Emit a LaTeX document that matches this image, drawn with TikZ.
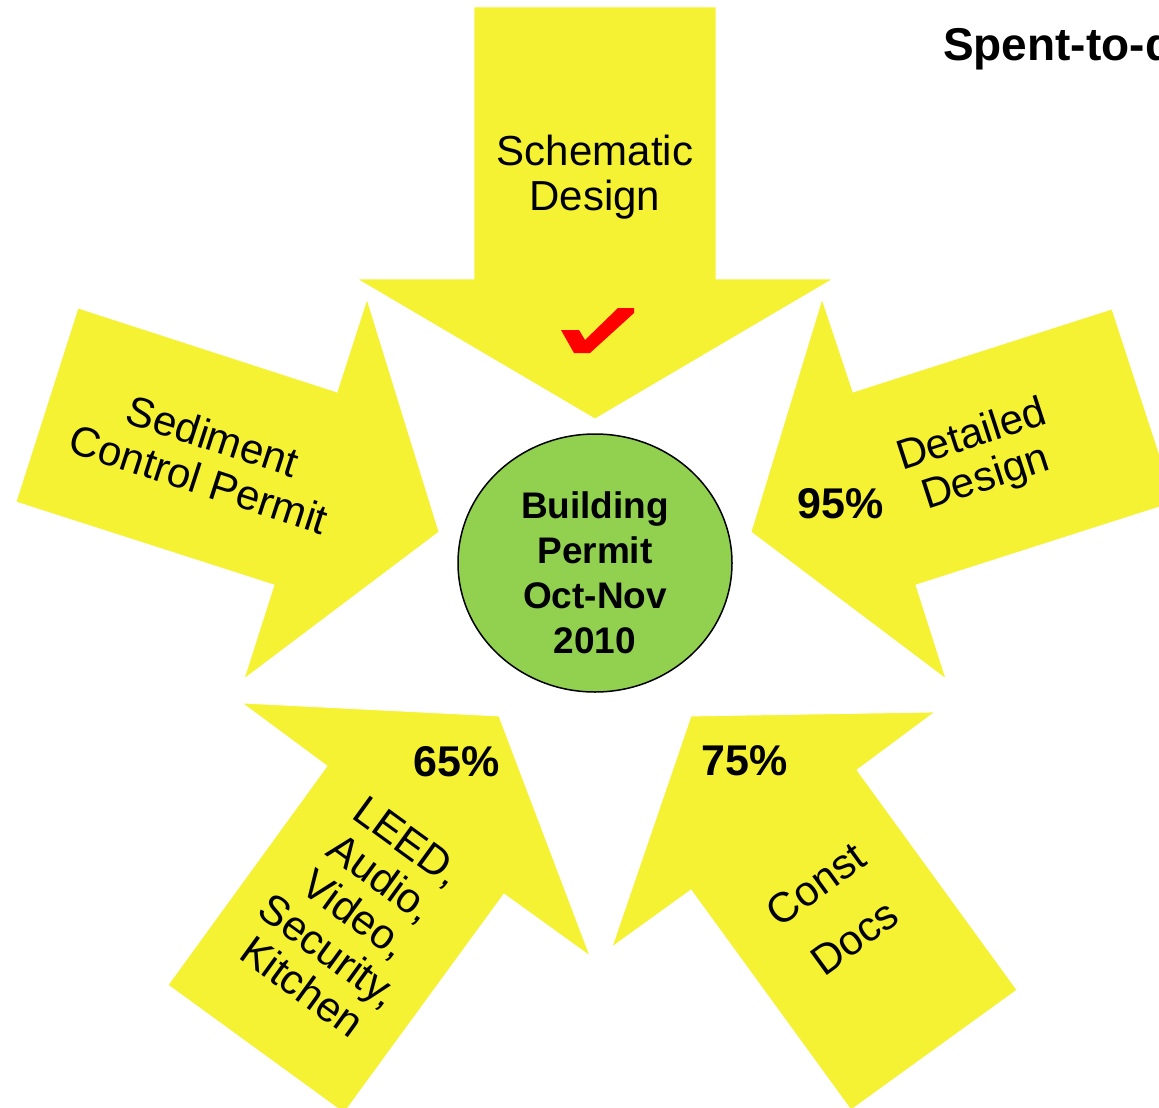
\documentclass[tikz,border=0pt]{standalone}
\usepackage{fontspec}
\setmainfont{Liberation Sans}
\usetikzlibrary{shapes.geometric}
\definecolor{arrowyellow}{HTML}{F5F233}
\definecolor{permitgreen}{HTML}{92D050}
\definecolor{checkred}{HTML}{FF0000}
\begin{document}
\begin{tikzpicture}[x=1pt,y=-1pt,
  arrowshape/.style={fill=arrowyellow, draw=white, line width=0.8pt, line join=miter},
  lbl/.style={inner sep=0pt, align=center, font=\fontsize{42}{45}\selectfont},
  pct/.style={inner sep=0pt, font=\fontsize{43}{45}\selectfont\bfseries},
  centre/.style={inner sep=0pt, align=center, font=\fontsize{37}{45}\selectfont\bfseries},
]
\useasboundingbox (0,0) rectangle (1159,1108);
\clip (0,0) rectangle (1159,1108);
\fill[white] (0,0) rectangle (1159,1108);
% top arrow
\filldraw[arrowshape] (474,7) -- (716,7) -- (716,279) -- (833,279) -- (595,419) -- (357,279) -- (474,279) -- cycle;
% left arrow
\filldraw[arrowshape] (78,308) -- (337,392) -- (367,299) -- (439,532) -- (244,679) -- (274,585) -- (16,502) -- cycle;
% right arrow
\filldraw[arrowshape] (1112,309) -- (853,392) -- (822,299) -- (751,532) -- (946,679) -- (916,585) -- (1175,502) -- cycle;
% lower left arrow
\filldraw[arrowshape] (168,985) -- (327,766) -- (242,703) -- (499,716) -- (590,956) -- (504,894) -- (344,1113) -- cycle;
% lower right arrow
\filldraw[arrowshape] (1017,990) -- (857,770) -- (935,712) -- (691,716) -- (612,947) -- (691,890) -- (851,1110) -- cycle;
% check mark
\fill[checkred] (561,330) -- (579,330) -- (585,340) -- (618,308) -- (634,308) -- (634,313) -- (590,353) -- (574,353) -- cycle;
% centre
\node[ellipse, draw=black, line width=1.5pt, fill=permitgreen, minimum width=274pt, minimum height=258pt, inner sep=0pt] (permit) at (595,563) {};
\node[centre] (permittext) at (595,572.5) {Building\\Permit\\Oct-Nov\\2010};
% labels
\node[lbl] (schem) at (595,177) {Schematic\\Design};
\node[lbl, rotate=-18] (sediment) at (206,457.5) {Sediment\\Control Permit};
\node[lbl, rotate=18] (detailed) at (979,458) {Detailed\\Design};
\node[lbl, rotate=-36] (leed) at (355,914) {LEED,\\Audio,\\Video,\\Security,\\Kitchen};
\node[lbl, rotate=36] (const) at (835,911) {Const\\[21pt]Docs};
\node[pct] (p95) at (840.5,504) {95\%};
\node[pct] (p65) at (456.5,761.5) {65\%};
\node[pct] (p75) at (745,760.5) {75\%};
\node[inner sep=0pt, anchor=base west, font=\fontsize{46}{50}\selectfont\bfseries] (spent) at (943,61) {Spent-to-date};
\end{tikzpicture}
\end{document}
